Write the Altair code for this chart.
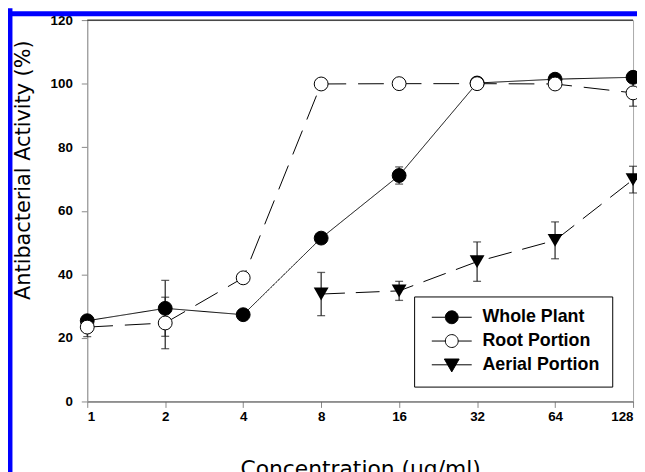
import altair as alt
import pandas as pd

# ---- data ----
conc = [1, 2, 4, 8, 16, 32, 64, 128]
whole = [25.4, 29.3, 27.3, 51.4, 71.1, 100.2, 101.4, 102.0]
whole_err = [0.8, 8.8, 0.8, 1.5, 2.7, 0.8, 0.8, 0.8]
root = [23.4, 24.7, 38.9, 99.9, 100.0, 100.0, 99.9, 97.1]
root_err = [3.0, 8.1, 0.8, 0.5, 0.5, 0.5, 0.8, 4.2]
aerial_conc = [8, 16, 32, 64, 128]
aerial = [33.8, 34.8, 44.0, 50.7, 69.8]
aerial_err = [6.8, 3.0, 6.2, 5.8, 4.2]

series_names = ["Whole Plant", "Root Portion", "Aerial Portion"]
x_ticks = [1, 2, 4, 8, 16, 32, 64, 128]
y_ticks = [0, 20, 40, 60, 80, 100, 120]

rows = []
for name, xs, vs, es in [
    ("Whole Plant", conc, whole, whole_err),
    ("Root Portion", conc, root, root_err),
    ("Aerial Portion", aerial_conc, aerial, aerial_err),
]:
    for x, v, e in zip(xs, vs, es):
        rows.append({"series": name, "conc": x, "value": v, "lo": v - e, "hi": v + e})
df = pd.DataFrame(rows)

leg_df = pd.DataFrame({"label": series_names, "conc": [1, 1, 1], "value": [-1000, -1000, -1000]})

xscale = alt.Scale(type="log", base=2, domain=[1, 128], nice=False)
yscale = alt.Scale(domain=[0, 120], nice=False)

X = alt.X("conc:Q", scale=xscale,
          axis=alt.Axis(values=x_ticks, format="d", title="Concentration (µg/ml)",
                        grid=False, tickSize=6, labelPadding=2,
                        domainColor="#555", tickColor="#888",
                        labelFont="Liberation Sans", labelFontSize=13.5, labelFontWeight="bold",
                        labelColor="black", titleFont="DejaVu Sans", titleFontSize=22,
                        titleFontWeight="normal", titleColor="black", titleY=58,
                        titleBaseline="top"))
Y = alt.Y("value:Q", scale=yscale,
          axis=alt.Axis(values=y_ticks, title="Antibacterial Activity (%)", grid=False,
                        tickSize=6, labelPadding=9, domainColor="#999", tickColor="#888",
                        labelFont="Liberation Sans", labelFontSize=13.5, labelFontWeight="bold",
                        labelColor="black", titleFont="DejaVu Sans", titleFontSize=21,
                        titleFontWeight="normal", titleColor="black", titleX=-64, titleY=151,
                        titleAngle=270, titleBaseline="middle", titleAlign="center"))

dashes = {"Whole Plant": [1, 0], "Root Portion": [26, 12], "Aerial Portion": [24, 11]}
fill_scale = alt.Scale(domain=series_names, range=["black", "white", "black"])
stroke_scale = alt.Scale(domain=series_names, range=["black", "black", "black"])
leg_shape_scale = alt.Scale(
    domain=series_names,
    range=[
        "M-3.1,0H-1M1,0H3.1M-1,0A1,1 0 1,0 1,0A1,1 0 1,0 -1,0Z",
        "M-3.1,0H-1M1,0H3.1M-1,0A1,1 0 1,0 1,0A1,1 0 1,0 -1,0Z",
        "M-3.1,0H3.1M-1.15,-0.9H1.15L0,1.1Z",
    ],
)

base = alt.Chart(df)

line_layers = [
    base.transform_filter(alt.datum.series == s).mark_line(
        color="black", strokeWidth=1, strokeDash=dashes[s]).encode(x=X, y=Y)
    for s in series_names
]

top_rule = alt.Chart(pd.DataFrame({"v": [120]})).mark_rule(color="black", strokeWidth=1).encode(
    y=alt.datum(120, type="quantitative"))

err_rule = base.mark_rule(color="#222", strokeWidth=1.2).encode(
    x=X, y=alt.Y("lo:Q", scale=yscale), y2="hi:Q")
cap_lo = base.mark_tick(color="#222", size=8, thickness=1.3, orient="horizontal").encode(
    x=X, y=alt.Y("lo:Q", scale=yscale))
cap_hi = base.mark_tick(color="#222", size=8, thickness=1.3, orient="horizontal").encode(
    x=X, y=alt.Y("hi:Q", scale=yscale))

circles = base.transform_filter(alt.datum.series != "Aerial Portion").mark_point(
    filled=True, size=196, stroke="black", strokeWidth=1, opacity=1, shape="circle").encode(
    x=X, y=Y,
    fill=alt.condition(alt.datum.series == "Root Portion", alt.value("white"), alt.value("black")),
)
triangles = base.transform_filter(alt.datum.series == "Aerial Portion").mark_point(
    filled=True, size=225, color="black", opacity=1, shape="triangle-down").encode(
    x=X, y=Y,
)

leg = alt.Legend(title=None)
legend_layer = alt.Chart(leg_df).mark_point(filled=True, strokeWidth=1, opacity=1,
                                           clip=True, size=169).encode(
    x=X, y=Y,
    fill=alt.Fill("label:N", scale=fill_scale, sort=series_names, legend=leg),
    stroke=alt.Stroke("label:N", scale=stroke_scale, sort=series_names, legend=leg),
    shape=alt.Shape("label:N", scale=leg_shape_scale, sort=series_names, legend=leg),
)

blue_left = alt.Chart(pd.DataFrame({"a": [0]})).mark_rule(color="#0000ff", strokeWidth=5).encode(
    x=alt.value(-78), y=alt.value(-12), y2=alt.value(470))
blue_top = alt.Chart(pd.DataFrame({"a": [0]})).mark_rule(color="#0000ff", strokeWidth=5).encode(
    x=alt.value(-82), x2=alt.value(570), y=alt.value(-6.5))

chart = alt.layer(
    *line_layers, top_rule, err_rule, cap_lo, cap_hi, circles, triangles, legend_layer,
    blue_left, blue_top
).properties(
    width=551, height=385,
    autosize=alt.AutoSizeParams(type="none"),
    padding={"left": 80, "top": 10, "right": 4, "bottom": 69},
).configure_view(
    stroke="#aaa", strokeWidth=1
).configure_legend(
    orient="none", legendX=330, legendY=279,
    strokeColor="black", strokeWidth=1, fillColor="white", padding=12,
    cornerRadius=0,
    labelFont="Liberation Sans", labelFontSize=18, labelFontWeight="bold", labelColor="black",
    symbolSize=169, symbolStrokeWidth=1,
    rowPadding=6, symbolOffset=17, labelOffset=22, symbolOpacity=1,
)

chart.save("out.html", embed_options={"renderer": "svg", "actions": False})
